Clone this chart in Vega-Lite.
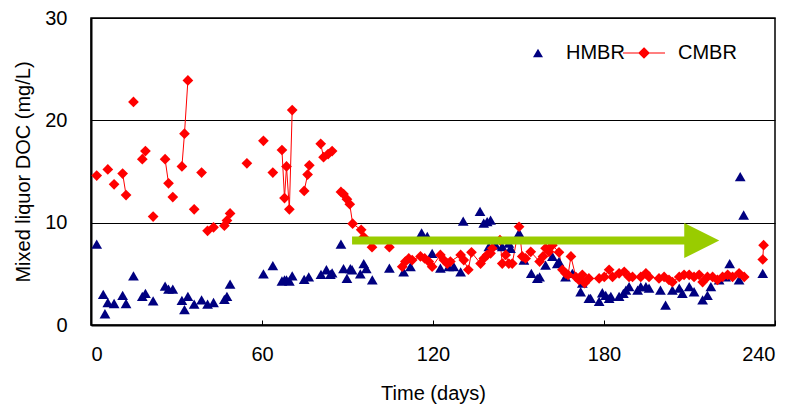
{
  "$schema": "https://vega.github.io/schema/vega-lite/v6.json",
  "width": 684,
  "height": 307,
  "autosize": "none",
  "padding": {"left": 91, "top": 18, "right": 18, "bottom": 81},
  "config": {
    "font": "Liberation Sans",
    "view": {"stroke": "black", "strokeWidth": 1.5},
    "axis": {"labelFont": "Liberation Sans", "titleFont": "Liberation Sans", "labelColor": "black", "titleColor": "black", "titleFontWeight": "normal", "labelFontSize": 20, "titleFontSize": 20},
    "legend": {"labelFont": "Liberation Sans", "labelFontSize": 20, "labelColor": "black", "symbolSize": 100, "symbolOpacity": 1}
  },
  "resolve": {"scale": {"color": "independent"}},
  "datasets": {
    "doc": [
      {"s":"HMBR","d":2.0,"v":7.9},{"s":"HMBR","d":4.3,"v":3.0},{"s":"HMBR","d":4.9,"v":1.1},{"s":"HMBR","d":5.9,"v":2.2},{"s":"HMBR","d":8.1,"v":2.1},{"s":"HMBR","d":11.1,"v":2.9},{"s":"HMBR","d":12.3,"v":2.1},{"s":"HMBR","d":14.9,"v":4.8},{"s":"HMBR","d":18.0,"v":2.8},{"s":"HMBR","d":19.1,"v":3.1},{"s":"HMBR","d":21.8,"v":2.35},{"s":"HMBR","d":26.0,"v":3.8},{"s":"HMBR","d":27.2,"v":3.5},{"s":"HMBR","d":28.7,"v":3.5},{"s":"HMBR","d":31.9,"v":2.4},{"s":"HMBR","d":32.8,"v":1.5},{"s":"HMBR","d":34.0,"v":2.8},{"s":"HMBR","d":36.2,"v":2.05},{"s":"HMBR","d":38.8,"v":2.45},{"s":"HMBR","d":40.9,"v":2.05},{"s":"HMBR","d":43.0,"v":2.2},{"s":"HMBR","d":46.8,"v":2.5},{"s":"HMBR","d":47.7,"v":2.8},{"s":"HMBR","d":48.8,"v":4.0},
      {"s":"HMBR","d":60.5,"v":5.0},{"s":"HMBR","d":63.8,"v":5.8},{"s":"HMBR","d":67.0,"v":4.3},{"s":"HMBR","d":67.9,"v":4.4},{"s":"HMBR","d":68.6,"v":4.4},{"s":"HMBR","d":69.6,"v":4.3},{"s":"HMBR","d":70.6,"v":4.8},{"s":"HMBR","d":74.8,"v":4.45},{"s":"HMBR","d":76.4,"v":4.7},{"s":"HMBR","d":80.7,"v":4.95},{"s":"HMBR","d":82.6,"v":5.4},{"s":"HMBR","d":84.0,"v":4.95},{"s":"HMBR","d":84.6,"v":5.1},{"s":"HMBR","d":87.7,"v":7.9},{"s":"HMBR","d":88.6,"v":5.5},{"s":"HMBR","d":89.8,"v":4.55},{"s":"HMBR","d":91.0,"v":5.5},{"s":"HMBR","d":91.6,"v":5.4},{"s":"HMBR","d":94.5,"v":5.0},{"s":"HMBR","d":95.7,"v":6.0},{"s":"HMBR","d":96.6,"v":5.5},{"s":"HMBR","d":98.7,"v":4.4},
      {"s":"HMBR","d":104.7,"v":5.55},{"s":"HMBR","d":109.7,"v":5.2},{"s":"HMBR","d":112.1,"v":5.7},{"s":"HMBR","d":116.0,"v":9.0},{"s":"HMBR","d":118.0,"v":8.65},{"s":"HMBR","d":119.7,"v":7.0},{"s":"HMBR","d":122.6,"v":5.55},{"s":"HMBR","d":125.5,"v":5.7},{"s":"HMBR","d":127.3,"v":5.7},{"s":"HMBR","d":129.7,"v":5.2},{"s":"HMBR","d":130.6,"v":10.15},{"s":"HMBR","d":136.5,"v":11.1},{"s":"HMBR","d":137.8,"v":9.95},{"s":"HMBR","d":139.0,"v":10.1},{"s":"HMBR","d":140.2,"v":10.25},{"s":"HMBR","d":139.6,"v":7.65},{"s":"HMBR","d":142.0,"v":7.8},{"s":"HMBR","d":144.3,"v":7.65},{"s":"HMBR","d":146.6,"v":8.0},{"s":"HMBR","d":147.2,"v":7.5},{"s":"HMBR","d":150.2,"v":9.0},{"s":"HMBR","d":151.9,"v":6.35},{"s":"HMBR","d":154.5,"v":5.05},{"s":"HMBR","d":156.6,"v":4.55},{"s":"HMBR","d":157.4,"v":4.7},{"s":"HMBR","d":159.5,"v":5.85},{"s":"HMBR","d":161.9,"v":6.7},{"s":"HMBR","d":163.6,"v":6.0},{"s":"HMBR","d":164.2,"v":6.2},{"s":"HMBR","d":166.5,"v":4.7},{"s":"HMBR","d":168.9,"v":5.05},
      {"s":"HMBR","d":171.8,"v":3.25},{"s":"HMBR","d":172.4,"v":4.1},{"s":"HMBR","d":174.7,"v":2.6},{"s":"HMBR","d":175.3,"v":2.6},{"s":"HMBR","d":178.3,"v":2.3},{"s":"HMBR","d":179.4,"v":3.15},{"s":"HMBR","d":180.6,"v":2.9},{"s":"HMBR","d":181.8,"v":2.6},{"s":"HMBR","d":182.4,"v":2.8},{"s":"HMBR","d":185.3,"v":2.8},{"s":"HMBR","d":186.8,"v":3.1},{"s":"HMBR","d":187.7,"v":3.4},{"s":"HMBR","d":188.8,"v":3.75},{"s":"HMBR","d":191.8,"v":3.4},{"s":"HMBR","d":192.9,"v":3.75},{"s":"HMBR","d":194.7,"v":3.75},{"s":"HMBR","d":195.8,"v":3.6},{"s":"HMBR","d":199.8,"v":3.4},{"s":"HMBR","d":201.6,"v":1.95},{"s":"HMBR","d":204.0,"v":3.4},{"s":"HMBR","d":206.4,"v":3.6},{"s":"HMBR","d":207.5,"v":3.1},{"s":"HMBR","d":209.9,"v":3.75},{"s":"HMBR","d":211.6,"v":3.25},{"s":"HMBR","d":214.6,"v":2.45},{"s":"HMBR","d":216.3,"v":2.9},{"s":"HMBR","d":217.5,"v":3.75},{"s":"HMBR","d":220.4,"v":4.4},{"s":"HMBR","d":222.7,"v":4.7},{"s":"HMBR","d":224.1,"v":6.0},{"s":"HMBR","d":227.4,"v":4.4},{"s":"HMBR","d":227.8,"v":14.5},{"s":"HMBR","d":229.0,"v":10.75},{"s":"HMBR","d":235.7,"v":5.05},
      {"s":"CMBR","g":"a","d":2.0,"v":14.6},{"s":"CMBR","g":"b","d":5.9,"v":15.2},{"s":"CMBR","g":"c","d":8.1,"v":13.75},{"s":"CMBR","g":"d","d":11.1,"v":14.8},{"s":"CMBR","g":"d","d":12.3,"v":12.7},{"s":"CMBR","g":"e","d":14.9,"v":21.8},{"s":"CMBR","g":"f","d":18.0,"v":16.2},{"s":"CMBR","g":"f","d":19.1,"v":17.0},{"s":"CMBR","g":"g","d":21.8,"v":10.6},{"s":"CMBR","g":"h","d":26.0,"v":16.2},{"s":"CMBR","g":"h","d":27.2,"v":13.85},{"s":"CMBR","g":"i","d":28.7,"v":12.5},{"s":"CMBR","g":"j","d":31.9,"v":15.5},{"s":"CMBR","g":"j","d":32.8,"v":18.7},{"s":"CMBR","g":"j","d":34.0,"v":23.9},{"s":"CMBR","g":"k","d":36.2,"v":11.3},{"s":"CMBR","g":"l","d":38.8,"v":14.9},{"s":"CMBR","g":"m","d":40.9,"v":9.2},{"s":"CMBR","g":"m","d":43.0,"v":9.55},{"s":"CMBR","g":"n","d":46.8,"v":9.7},{"s":"CMBR","g":"n","d":47.7,"v":10.2},{"s":"CMBR","g":"n","d":48.8,"v":10.9},{"s":"CMBR","g":"o","d":54.7,"v":15.8},{"s":"CMBR","g":"p","d":60.5,"v":18.0},{"s":"CMBR","g":"q","d":63.8,"v":14.9},
      {"s":"CMBR","g":"r","d":67.0,"v":17.1},{"s":"CMBR","g":"r","d":67.9,"v":12.4},{"s":"CMBR","g":"r","d":68.6,"v":15.5},{"s":"CMBR","g":"r","d":69.6,"v":11.3},{"s":"CMBR","g":"r","d":70.6,"v":21.0},{"s":"CMBR","g":"s","d":74.8,"v":13.1},{"s":"CMBR","g":"s","d":76.0,"v":14.7},{"s":"CMBR","g":"s","d":76.6,"v":15.6},{"s":"CMBR","g":"t","d":80.6,"v":17.7},{"s":"CMBR","g":"t","d":81.6,"v":16.4},{"s":"CMBR","g":"t","d":83.2,"v":16.7},{"s":"CMBR","g":"t","d":84.6,"v":17.0},
      {"s":"CMBR","g":"u","d":87.7,"v":13.0},{"s":"CMBR","g":"u","d":88.6,"v":12.8},{"s":"CMBR","g":"u","d":89.8,"v":12.3},{"s":"CMBR","g":"u","d":90.8,"v":11.8},{"s":"CMBR","g":"u","d":91.8,"v":9.9},{"s":"CMBR","g":"u","d":94.8,"v":9.3},{"s":"CMBR","g":"u","d":95.7,"v":8.6},{"s":"CMBR","g":"u","d":98.6,"v":7.6},{"s":"CMBR","g":"v","d":104.7,"v":7.6},
      {"s":"CMBR","g":"w","d":109.2,"v":5.7},{"s":"CMBR","g":"w","d":110.3,"v":6.2},{"s":"CMBR","g":"w","d":111.5,"v":6.5},{"s":"CMBR","g":"w","d":112.7,"v":6.35},{"s":"CMBR","g":"w","d":115.6,"v":6.7},{"s":"CMBR","g":"w","d":117.1,"v":6.5},{"s":"CMBR","g":"w","d":118.5,"v":6.2},{"s":"CMBR","g":"w","d":119.7,"v":5.7},{"s":"CMBR","g":"w","d":122.6,"v":6.85},{"s":"CMBR","g":"w","d":123.8,"v":6.35},{"s":"CMBR","g":"w","d":125.0,"v":6.0},{"s":"CMBR","g":"w","d":126.1,"v":6.2},{"s":"CMBR","g":"w","d":129.7,"v":6.85},{"s":"CMBR","g":"w","d":130.8,"v":6.35},{"s":"CMBR","g":"w","d":132.4,"v":5.4},{"s":"CMBR","g":"w","d":133.5,"v":7.1},{"s":"CMBR","g":"w","d":136.7,"v":6.0},{"s":"CMBR","g":"w","d":137.8,"v":6.5},{"s":"CMBR","g":"w","d":139.0,"v":6.85},{"s":"CMBR","g":"w","d":140.2,"v":7.0},{"s":"CMBR","g":"w","d":140.8,"v":7.5},{"s":"CMBR","g":"w","d":143.5,"v":8.3},{"s":"CMBR","g":"w","d":144.3,"v":6.0},{"s":"CMBR","g":"w","d":145.5,"v":6.85},{"s":"CMBR","g":"w","d":146.6,"v":6.0},{"s":"CMBR","g":"w","d":147.8,"v":6.0},{"s":"CMBR","g":"w","d":150.2,"v":9.6},{"s":"CMBR","g":"w","d":151.3,"v":6.7},{"s":"CMBR","g":"w","d":152.5,"v":6.5},{"s":"CMBR","g":"w","d":154.3,"v":7.15},{"s":"CMBR","g":"w","d":157.4,"v":6.2},{"s":"CMBR","g":"w","d":158.6,"v":6.7},{"s":"CMBR","g":"w","d":159.5,"v":7.5},{"s":"CMBR","g":"w","d":160.7,"v":7.15},{"s":"CMBR","g":"w","d":161.9,"v":7.8},{"s":"CMBR","g":"w","d":164.2,"v":7.1},{"s":"CMBR","g":"w","d":165.4,"v":5.4},{"s":"CMBR","g":"w","d":166.5,"v":5.05},{"s":"CMBR","g":"w","d":167.4,"v":4.9},{"s":"CMBR","g":"w","d":168.4,"v":6.7},
      {"s":"CMBR","g":"w","d":170.1,"v":4.7},{"s":"CMBR","g":"w","d":171.2,"v":4.4},{"s":"CMBR","g":"w","d":172.4,"v":4.9},{"s":"CMBR","g":"w","d":173.2,"v":4.1},{"s":"CMBR","g":"w","d":174.7,"v":4.55},{"s":"CMBR","g":"w","d":178.3,"v":4.55},{"s":"CMBR","g":"w","d":180.1,"v":4.7},{"s":"CMBR","g":"w","d":181.8,"v":5.4},{"s":"CMBR","g":"w","d":183.0,"v":4.7},{"s":"CMBR","g":"w","d":185.3,"v":5.05},{"s":"CMBR","g":"w","d":187.1,"v":5.2},{"s":"CMBR","g":"w","d":188.8,"v":4.7},{"s":"CMBR","g":"w","d":190.0,"v":4.7},{"s":"CMBR","g":"w","d":192.9,"v":4.7},{"s":"CMBR","g":"w","d":194.7,"v":5.05},{"s":"CMBR","g":"w","d":195.8,"v":4.7},{"s":"CMBR","g":"w","d":199.3,"v":4.55},{"s":"CMBR","g":"w","d":201.1,"v":4.7},{"s":"CMBR","g":"w","d":202.8,"v":4.4},{"s":"CMBR","g":"w","d":204.0,"v":4.2},{"s":"CMBR","g":"w","d":206.4,"v":4.7},{"s":"CMBR","g":"w","d":208.1,"v":4.9},{"s":"CMBR","g":"w","d":209.9,"v":4.9},{"s":"CMBR","g":"w","d":211.6,"v":4.7},{"s":"CMBR","g":"w","d":213.4,"v":4.9},{"s":"CMBR","g":"w","d":214.6,"v":4.2},{"s":"CMBR","g":"w","d":216.3,"v":4.7},{"s":"CMBR","g":"w","d":218.1,"v":4.7},{"s":"CMBR","g":"w","d":219.8,"v":4.4},{"s":"CMBR","g":"w","d":221.6,"v":4.7},{"s":"CMBR","g":"w","d":223.4,"v":4.9},{"s":"CMBR","g":"w","d":225.1,"v":4.7},{"s":"CMBR","g":"w","d":227.4,"v":5.05},{"s":"CMBR","g":"w","d":229.2,"v":4.7},
      {"s":"CMBR","g":"x","d":235.7,"v":6.4},{"s":"CMBR","g":"x","d":236.0,"v":7.8}
    ],
    "arrow": [{"start": 91.6, "end": 208.5, "tip": 214.3, "level": 8.25}]
  },
  "layer": [
    {
      "data": {"name": "doc"},
      "transform": [{"filter": "datum.s === 'CMBR'"}],
      "mark": {"type": "line", "color": "#ff0000", "strokeWidth": 1},
      "encoding": {
        "x": {"field": "d", "type": "quantitative", "scale": {"domain": [0, 240], "nice": false},
          "axis": {"values": [0, 60, 120, 180, 240], "grid": false, "domainColor": "black", "domainWidth": 2, "tickColor": "black", "tickSize": -5, "tickWidth": 1, "labelPadding": 24, "title": "Time (days)", "titlePadding": 19}},
        "y": {"field": "v", "type": "quantitative", "scale": {"domain": [0, 30], "nice": false},
          "axis": {"values": [0, 10, 20, 30], "grid": true, "gridColor": "black", "gridOpacity": 1, "gridWidth": 1, "domainColor": "black", "domainWidth": 2, "ticks": false, "labelPadding": 24, "title": "Mixed liquor DOC (mg/L)", "titlePadding": 11}},
        "detail": {"field": "g"}
      }
    },
    {
      "data": {"name": "doc"},
      "transform": [{"filter": "datum.s === 'HMBR'"}],
      "mark": {"type": "point", "filled": true, "opacity": 1, "size": 115, "shape": "triangle-up"},
      "encoding": {
        "x": {"field": "d", "type": "quantitative"},
        "y": {"field": "v", "type": "quantitative"},
        "color": {"field": "s", "type": "nominal", "scale": {"domain": ["HMBR"], "range": ["#000080"]},
          "legend": {"orient": "none", "legendX": 437, "legendY": 25, "title": null, "symbolType": "triangle-up", "labelOffset": 18}}
      }
    },
    {
      "data": {"name": "doc"},
      "transform": [{"filter": "datum.s === 'CMBR'"}],
      "mark": {"type": "point", "filled": true, "opacity": 1, "size": 115, "shape": "diamond"},
      "encoding": {
        "x": {"field": "d", "type": "quantitative"},
        "y": {"field": "v", "type": "quantitative"},
        "color": {"field": "s", "type": "nominal", "scale": {"domain": ["CMBR"], "range": ["#ff0000"]},
          "legend": {"orient": "none", "legendX": 543, "legendY": 25, "title": null, "symbolType": "M-4.2,0L4.2,0M0,-1L1,0L0,1L-1,0Z", "symbolStrokeColor": "#ff0000", "symbolStrokeWidth": 1.2, "labelOffset": 24}}
      }
    },
    {
      "data": {"name": "arrow"},
      "mark": {"type": "rule", "color": "#99cc00", "strokeWidth": 8},
      "encoding": {
        "x": {"field": "start", "type": "quantitative"},
        "x2": {"field": "end"},
        "y": {"field": "level", "type": "quantitative"}
      }
    },
    {
      "data": {"name": "arrow"},
      "mark": {"type": "point", "filled": true, "opacity": 1, "color": "#99cc00", "shape": "M-1,-1L1,0L-1,1Z", "size": 1225},
      "encoding": {
        "x": {"field": "tip", "type": "quantitative"},
        "y": {"field": "level", "type": "quantitative"}
      }
    }
  ]
}
